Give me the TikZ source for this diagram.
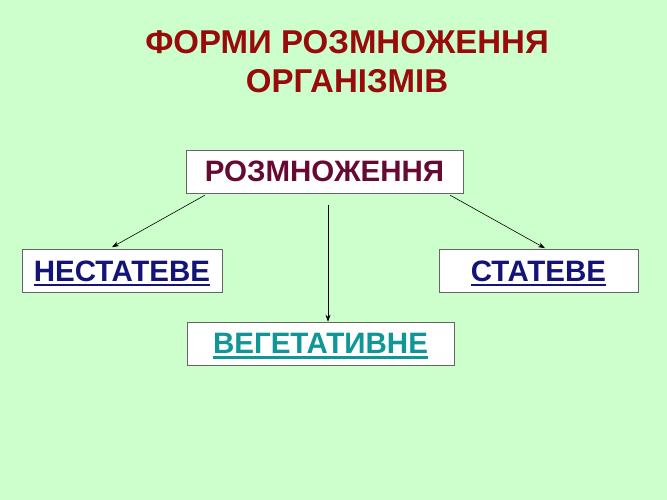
\documentclass[tikz,border=0pt]{standalone}
\usepackage{fontspec}
\setmainfont{Liberation Sans}
\usepackage{xcolor}
\usetikzlibrary{arrows.meta,positioning,calc}

\definecolor{slidegreen}{RGB}{204,255,204}
\definecolor{titlered}{RGB}{153,10,10}
\definecolor{rootcol}{RGB}{102,10,51}
\definecolor{navycol}{RGB}{20,20,120}
\definecolor{tealcol}{RGB}{16,150,150}

\newcommand{\boldul}[1]{\setbox0\hbox{#1}\rlap{\copy0}\smash{\raisebox{-5pt}{\rule{\wd0}{2.4pt}}}}

\begin{document}
\begin{tikzpicture}[
    x=1pt, y=-1pt,
    title/.style={
        font=\bfseries\fontsize{33}{39}\selectfont,
        text=titlered, align=center
    },
    formbox/.style={
        rectangle, draw=gray!80!black, fill=white, line width=0.6pt,
        minimum height=43pt, inner sep=0pt,
        font=\bfseries\fontsize{29.5}{32}\selectfont
    },
    arr/.style={-{Stealth[length=7pt,width=5pt]}, line width=0.6pt, color=black},
]

\fill[slidegreen] (0,0) rectangle (667,500);

\node[title] (heading) at (347,62) {ФОРМИ РОЗМНОЖЕННЯ\\ОРГАНІЗМІВ};

\node[formbox, minimum width=277pt, text=rootcol] (root) at (324.5,171.5) {РОЗМНОЖЕННЯ};
\node[formbox, minimum width=200pt, text=navycol] (asex) at (122,271) {\boldul{НЕСТАТЕВЕ}};
\node[formbox, minimum width=199pt, text=navycol] (sex) at (538.5,271) {\boldul{СТАТЕВЕ}};
\node[formbox, minimum width=267pt, text=tealcol] (veg) at (320.5,343.5) {\boldul{ВЕГЕТАТИВНЕ}};

\draw[arr] ([xshift=19pt,yshift=-2pt]root.south west) -- ([xshift=-10pt,yshift=2pt]asex.north);
\draw[arr] ([xshift=3.5pt,yshift=-12pt]root.south) -- ([xshift=7.5pt]veg.north);
\draw[arr] ([xshift=-13pt,yshift=-2pt]root.south east) -- ([xshift=6.5pt,yshift=1pt]sex.north);

\end{tikzpicture}
\end{document}
